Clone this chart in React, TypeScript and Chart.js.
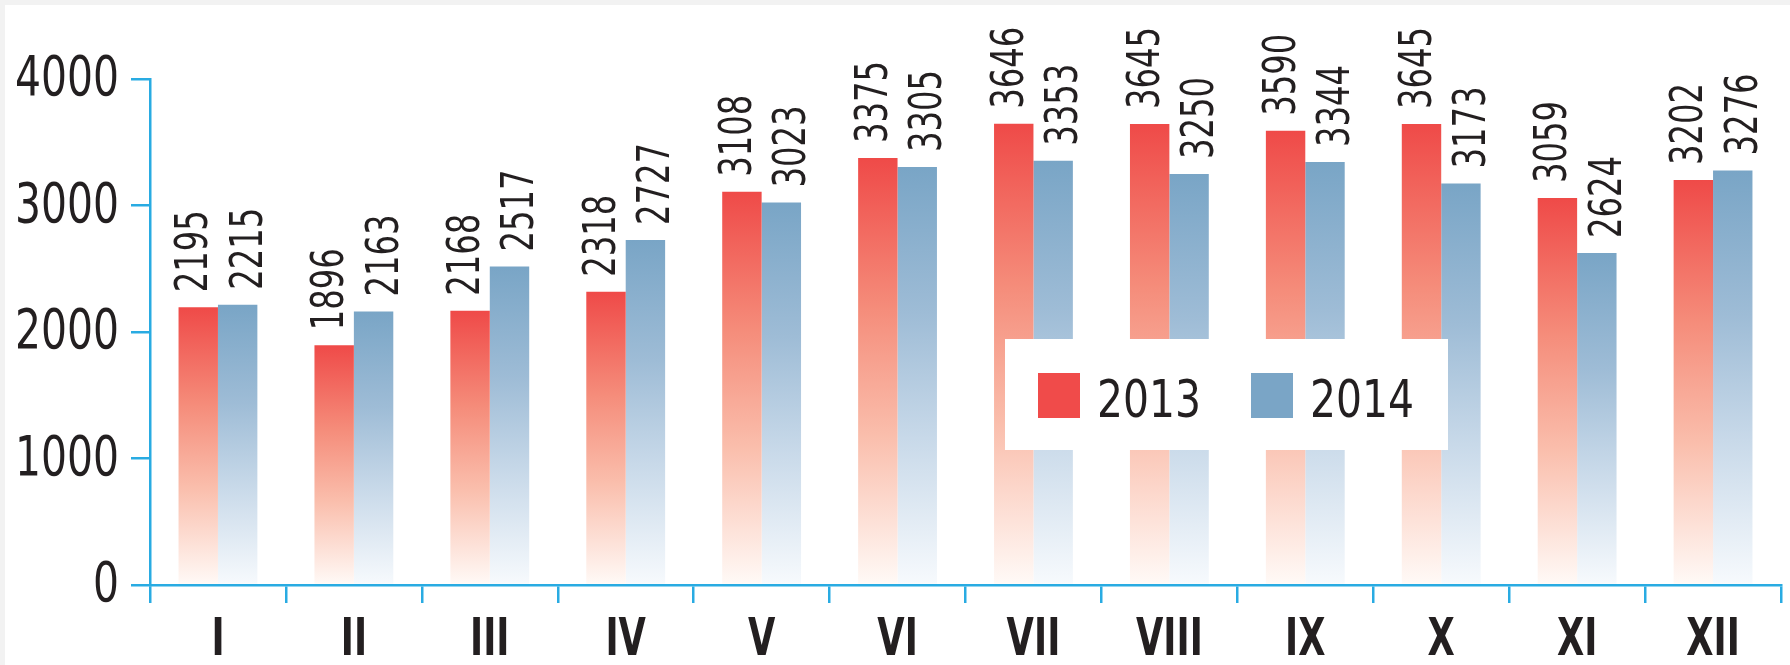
import React, { useEffect, useRef } from 'react';
import { Chart, registerables } from 'chart.js';

Chart.register(...registerables);

const months = ['I', 'II', 'III', 'IV', 'V', 'VI', 'VII', 'VIII', 'IX', 'X', 'XI', 'XII'];
const values2013 = [2195, 1896, 2168, 2318, 3108, 3375, 3646, 3645, 3590, 3645, 3059, 3202];
const values2014 = [2215, 2163, 2517, 2727, 3023, 3305, 3353, 3250, 3344, 3173, 2624, 3276];
const yTicks = [0, 1000, 2000, 3000, 4000];
const seriesLabels = ['2013', '2014'];

const FONT = "'DejaVu Sans', sans-serif";
const AXIS = '#29abe2';
const TEXT = '#231f20';

const redStops: [number, string][] = [
  [0, 'rgb(239,74,72)'],
  [0.35, 'rgb(245,140,122)'],
  [0.65, 'rgb(250,190,172)'],
  [1, 'rgb(255,250,247)'],
];
const blueStops: [number, string][] = [
  [0, 'rgb(121,165,198)'],
  [0.35, 'rgb(158,188,214)'],
  [0.65, 'rgb(200,217,233)'],
  [1, 'rgb(247,250,253)'],
];
const legendColors = ['#f04b4a', '#7aa5c6'];
// horizontal offset of each series' value label from its bar centre
const labelShift = [-7, 8];

function gradFill(stops: [number, string][]) {
  return (c: any) => {
    const chart = c.chart;
    if (!chart.chartArea || c.type !== 'data' || !chart.scales.y) return stops[0][1];
    const y = chart.scales.y;
    const top = y.getPixelForValue(c.raw);
    const bottom = y.getPixelForValue(0);
    const g = chart.ctx.createLinearGradient(0, top, 0, bottom);
    stops.forEach(([o, col]) => g.addColorStop(o, col));
    return g;
  };
}

// condensed text: draws with a horizontal squeeze in the text direction
function drawText(
  ctx: CanvasRenderingContext2D,
  text: string,
  x: number,
  y: number,
  font: string,
  sx: number,
  align: CanvasTextAlign,
  rotate = 0
) {
  ctx.save();
  ctx.translate(x, y);
  if (rotate) ctx.rotate(rotate);
  ctx.scale(sx, 1);
  ctx.font = font;
  ctx.fillStyle = TEXT;
  ctx.textAlign = align;
  ctx.textBaseline = 'alphabetic';
  ctx.fillText(text, 0, 0);
  ctx.restore();
}

const background = {
  id: 'background',
  beforeDraw(chart: any) {
    const { ctx, width, height } = chart;
    ctx.save();
    ctx.fillStyle = '#f2f2f2';
    ctx.fillRect(0, 0, width, height);
    ctx.fillStyle = '#ffffff';
    ctx.fillRect(5, 5, width - 5, height - 5);
    ctx.restore();
  },
};

const axisLabels = {
  id: 'axisLabels',
  afterDraw(chart: any) {
    const { ctx, chartArea } = chart;
    const ys = chart.scales.y;
    ys.ticks.forEach((t: any) => {
      const py = ys.getPixelForValue(t.value);
      drawText(ctx, String(t.value), chartArea.left - 31, py + 16, `55px ${FONT}`, 0.743, 'right');
    });
    const xs = chart.scales.x;
    chart.data.labels.forEach((lab: string, i: number) => {
      const px = xs.getPixelForTick(i);
      drawText(ctx, lab, px, chartArea.bottom + 70, `bold 52px ${FONT}`, 0.68, 'center');
    });
  },
};

const valueLabels = {
  id: 'valueLabels',
  afterDatasetsDraw(chart: any) {
    const { ctx } = chart;
    chart.data.datasets.forEach((ds: any, i: number) => {
      const meta = chart.getDatasetMeta(i);
      meta.data.forEach((bar: any, j: number) => {
        // baseline sits on the right edge of the rotated glyphs
        drawText(
          ctx,
          String(ds.data[j]),
          bar.x + labelShift[i] + 16,
          bar.y - 15,
          `45px ${FONT}`,
          0.716,
          'left',
          -Math.PI / 2
        );
      });
    });
  },
};

const boxLegend = {
  id: 'boxLegend',
  afterDraw(chart: any) {
    const { ctx, chartArea } = chart;
    const bx = chartArea.left + 855;
    const by = chartArea.top + 260;
    const bw = 443;
    const bh = 111;
    ctx.save();
    ctx.fillStyle = '#ffffff';
    ctx.fillRect(bx, by, bw, bh);
    ctx.restore();
    chart.data.datasets.forEach((ds: any, i: number) => {
      const sx = bx + 33 + i * 213;
      const sy = by + 34;
      ctx.save();
      ctx.fillStyle = legendColors[i];
      ctx.fillRect(sx, sy, 42, 45);
      ctx.restore();
      drawText(ctx, ds.label, sx + 59, sy + 44, `52px ${FONT}`, 0.786, 'left');
    });
  },
};

export default function App() {
  const ref = useRef<HTMLCanvasElement | null>(null);

  useEffect(() => {
    document.body.style.margin = '0';
    if (!ref.current) return;
    const chart = new Chart(ref.current, {
      type: 'bar',
      data: {
        labels: months,
        datasets: [
          {
            label: seriesLabels[0],
            data: values2013,
            backgroundColor: gradFill(redStops),
            categoryPercentage: 0.58,
            barPercentage: 1.0,
          },
          {
            label: seriesLabels[1],
            data: values2014,
            backgroundColor: gradFill(blueStops),
            categoryPercentage: 0.58,
            barPercentage: 1.0,
          },
        ],
      },
      options: {
        responsive: false,
        devicePixelRatio: 1,
        animation: false,
        layout: { padding: { top: 79, right: 9, left: 0, bottom: 0 } },
        plugins: {
          legend: { display: false },
          tooltip: { enabled: false },
        },
        scales: {
          x: {
            grid: {
              display: true,
              drawOnChartArea: false,
              drawTicks: true,
              tickLength: 18,
              color: AXIS,
              lineWidth: 2.5,
              offset: true,
            },
            border: { display: true, color: AXIS, width: 2.5 },
            ticks: { display: false, autoSkip: false },
            afterFit: (s: any) => {
              s.height = 80;
            },
          },
          y: {
            min: 0,
            max: 4000,
            afterBuildTicks: (s: any) => {
              s.ticks = yTicks.map((v) => ({ value: v }));
            },
            ticks: { display: false },
            grid: {
              drawOnChartArea: false,
              tickLength: 19,
              color: AXIS,
              lineWidth: 2.5,
            },
            border: { display: true, color: AXIS, width: 2.5 },
            afterFit: (s: any) => {
              s.width = 150;
            },
          },
        },
      } as any,
      plugins: [background, valueLabels, axisLabels, boxLegend],
    });
    return () => chart.destroy();
  }, []);

  return <canvas ref={ref} width={1790} height={665} style={{ display: 'block' }} />;
}
